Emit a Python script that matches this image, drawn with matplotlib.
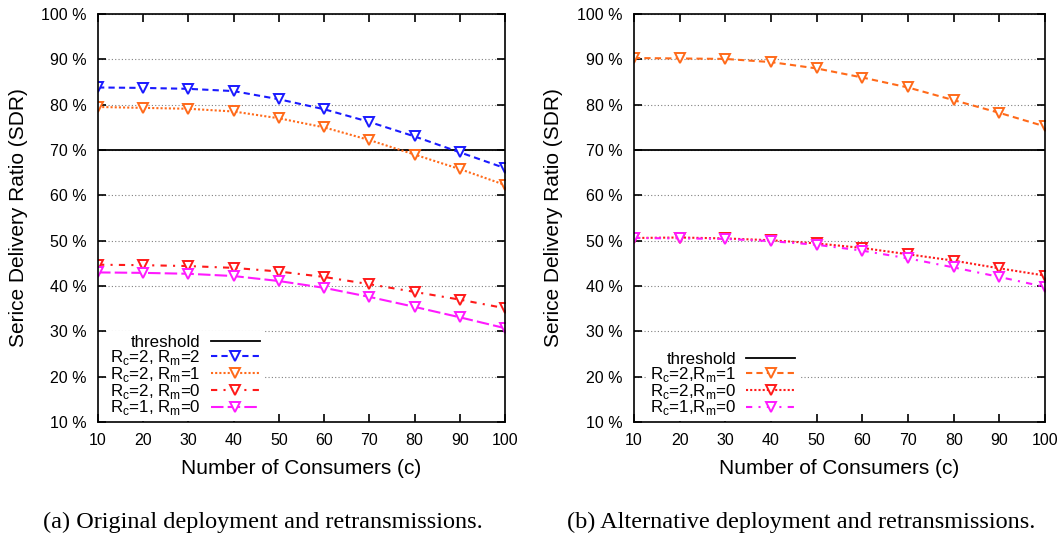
import matplotlib.pyplot as plt
import numpy as np

plt.rcParams['font.family'] = ['Liberation Sans', 'DejaVu Sans']

consumers = [10, 20, 30, 40, 50, 60, 70, 80, 90, 100]
threshold = 70

# (a) original deployment
a_rc2_rm2 = [83.8, 83.7, 83.5, 83.0, 81.2, 79.0, 76.2, 73.0, 69.5, 66.0]
a_rc2_rm1 = [79.5, 79.3, 79.1, 78.5, 77.0, 75.0, 72.2, 69.0, 65.8, 62.3]
a_rc2_rm0 = [44.7, 44.6, 44.4, 44.0, 43.2, 42.0, 40.4, 38.7, 37.0, 35.1]
a_rc1_rm0 = [43.0, 42.9, 42.7, 42.2, 41.1, 39.6, 37.6, 35.4, 33.1, 30.7]

# (b) alternative deployment
b_rc2_rm1 = [90.3, 90.2, 90.1, 89.4, 88.0, 86.0, 83.8, 81.0, 78.2, 75.2]
b_rc2_rm0 = [50.6, 50.7, 50.5, 50.1, 49.4, 48.4, 47.0, 45.6, 43.9, 42.3]
b_rc1_rm0 = [50.6, 50.5, 50.4, 49.9, 49.1, 47.8, 46.1, 44.1, 42.0, 39.8]

yticks = list(range(10, 101, 10))

fig = plt.figure(figsize=(10.61, 5.4), dpi=100)
ax1 = fig.add_axes([0.0924, 0.2185, 0.3836, 0.7555])
ax2 = fig.add_axes([0.5975, 0.2185, 0.3875, 0.7555])


def style(ax):
    ax.set_xlim(10, 100)
    ax.set_ylim(10, 100)
    ax.set_xticks(consumers)
    ax.set_yticks(yticks)
    ax.set_yticklabels(['%d %%' % t for t in yticks])
    ax.tick_params(direction='in', top=True, right=True, labelsize=11.5,
                   length=6, width=1.2, pad=8)
    ax.yaxis.grid(True, linestyle=(0, (1, 2)), color='grey', linewidth=0.8)
    ax.set_axisbelow(True)
    for s in ax.spines.values():
        s.set_linewidth(1.2)
    ax.set_xlabel('Number of Consumers (c)', fontsize=15, labelpad=8)
    ax.set_ylabel('Serice Delivery Ratio (SDR)', fontsize=15, labelpad=10)
    ax.axhline(threshold, color='black', linewidth=1.3, label='threshold')


mk = dict(marker='v', markersize=7, markerfacecolor='white', markeredgewidth=1.4)
legkw = dict(loc='lower left', markerfirst=False, fontsize=12.2, handlelength=2.9,
             labelspacing=-0.12, borderpad=0.2, handletextpad=0.6, framealpha=1,
             edgecolor='none', fancybox=False)

style(ax1)
ax1.plot(consumers, a_rc2_rm2, color='#1a1aff', linestyle=(0, (3, 2)), lw=1.5,
         markeredgecolor='#1a1aff', label='R$_\\mathregular{c}$=2, R$_\\mathregular{m}$=2', **mk)
ax1.plot(consumers, a_rc2_rm1, color='#ff6a1a', linestyle=(0, (1, 1)), lw=1.5,
         markeredgecolor='#ff6a1a', label='R$_\\mathregular{c}$=2, R$_\\mathregular{m}$=1', **mk)
ax1.plot(consumers, a_rc2_rm0, color='#ff1a1a', linestyle=(0, (3, 3, 1, 3)), lw=1.5,
         markeredgecolor='#ff1a1a', label='R$_\\mathregular{c}$=2, R$_\\mathregular{m}$=0', **mk)
ax1.plot(consumers, a_rc1_rm0, color='#ff1aff', linestyle=(0, (6, 2)), lw=1.5,
         markeredgecolor='#ff1aff', label='R$_\\mathregular{c}$=1, R$_\\mathregular{m}$=0', **mk)
leg = ax1.legend(bbox_to_anchor=(0.0, -0.018), **legkw)
leg._legend_box.align = 'right'

style(ax2)
ax2.plot(consumers, b_rc2_rm1, color='#ff6a1a', linestyle=(0, (3, 2)), lw=1.5,
         markeredgecolor='#ff6a1a', label='R$_\\mathregular{c}$=2,R$_\\mathregular{m}$=1', **mk)
ax2.plot(consumers, b_rc2_rm0, color='#ff1a1a', linestyle=(0, (1, 1)), lw=1.5,
         markeredgecolor='#ff1a1a', label='R$_\\mathregular{c}$=2,R$_\\mathregular{m}$=0', **mk)
ax2.plot(consumers, b_rc1_rm0, color='#ff1aff', linestyle=(0, (3, 3, 1, 3)), lw=1.5,
         markeredgecolor='#ff1aff', label='R$_\\mathregular{c}$=1,R$_\\mathregular{m}$=0', **mk)
ax2.legend(bbox_to_anchor=(0.01, -0.018), **legkw)

fig.text(0.248, 0.022, '(a) Original deployment and retransmissions.',
         ha='center', fontsize=17.5, family=['Liberation Serif', 'DejaVu Serif'])
fig.text(0.755, 0.022, '(b) Alternative deployment and retransmissions.',
         ha='center', fontsize=17.5, family=['Liberation Serif', 'DejaVu Serif'])

fig.savefig('out.png', dpi=100)
